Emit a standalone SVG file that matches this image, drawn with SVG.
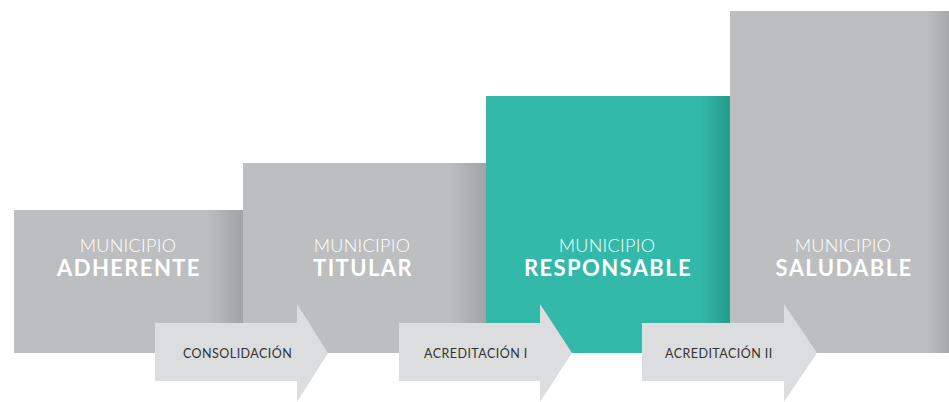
<svg xmlns="http://www.w3.org/2000/svg" width="949" height="402" viewBox="0 0 949 402">
<defs>
<linearGradient id="g1" x1="0" y1="0" x2="1" y2="0"><stop offset="0" stop-color="#bdbec0"/><stop offset="0.84" stop-color="#bdbec0"/><stop offset="1" stop-color="#a2a3a5"/></linearGradient>
<linearGradient id="g4" x1="0" y1="0" x2="1" y2="0"><stop offset="0" stop-color="#bdbec0"/><stop offset="0.9" stop-color="#bdbec0"/><stop offset="1" stop-color="#a6a7a9"/></linearGradient>
<linearGradient id="gt" x1="0" y1="0" x2="1" y2="0"><stop offset="0" stop-color="#33b9a9"/><stop offset="0.88" stop-color="#33b9a9"/><stop offset="1" stop-color="#279a8b"/></linearGradient>
<style>
.mun{font-family:Lato,"Open Sans",sans-serif;font-weight:300;font-size:18px;fill:#ffffff;text-anchor:middle;letter-spacing:0.3px}
.nm{font-family:Lato,"Open Sans",sans-serif;font-weight:700;font-size:22px;fill:#ffffff;text-anchor:middle;letter-spacing:1.4px}
.arr{fill:#dcdddf}
.lbl{font-family:Lato,"Open Sans",sans-serif;font-size:12.5px;fill:#333333;letter-spacing:0.45px}
</style>
</defs>
<g id="node-adherente">
<rect x="14" y="210" width="229" height="143" fill="url(#g1)"/>
<text class="mun" x="128" y="252">MUNICIPIO</text>
<text class="nm" x="129" y="276">ADHERENTE</text>
</g>
<g id="node-titular">
<rect x="243" y="163" width="243" height="190" fill="url(#g1)"/>
<text class="mun" x="362" y="252">MUNICIPIO</text>
<text class="nm" x="363" y="276">TITULAR</text>
</g>
<g id="node-responsable">
<rect x="486" y="96" width="244" height="257" fill="url(#gt)"/>
<text class="mun" x="607" y="252">MUNICIPIO</text>
<text class="nm" x="608" y="276">RESPONSABLE</text>
</g>
<g id="node-saludable">
<rect x="730" y="11" width="219" height="342" fill="url(#g4)"/>
<text class="mun" x="843" y="252">MUNICIPIO</text>
<text class="nm" x="844" y="276">SALUDABLE</text>
</g>
<g id="connectors">
<g id="arrow-consolidacion">
<polygon class="arr" points="155,323 297,323 297,304 328,353 297,402 297,381 155,381"/>
<text class="lbl" x="183" y="358">CONSOLIDACIÓN</text>
</g>
<g id="arrow-acreditacion-1">
<polygon class="arr" points="399,323 540,323 540,304 572,353 540,402 540,381 399,381"/>
<text class="lbl" x="424" y="358">ACREDITACIÓN I</text>
</g>
<g id="arrow-acreditacion-2">
<polygon class="arr" points="642,323 784,323 784,304 817,353 784,402 784,381 642,381"/>
<text class="lbl" x="665" y="358">ACREDITACIÓN II</text>
</g>
</g>
</svg>
